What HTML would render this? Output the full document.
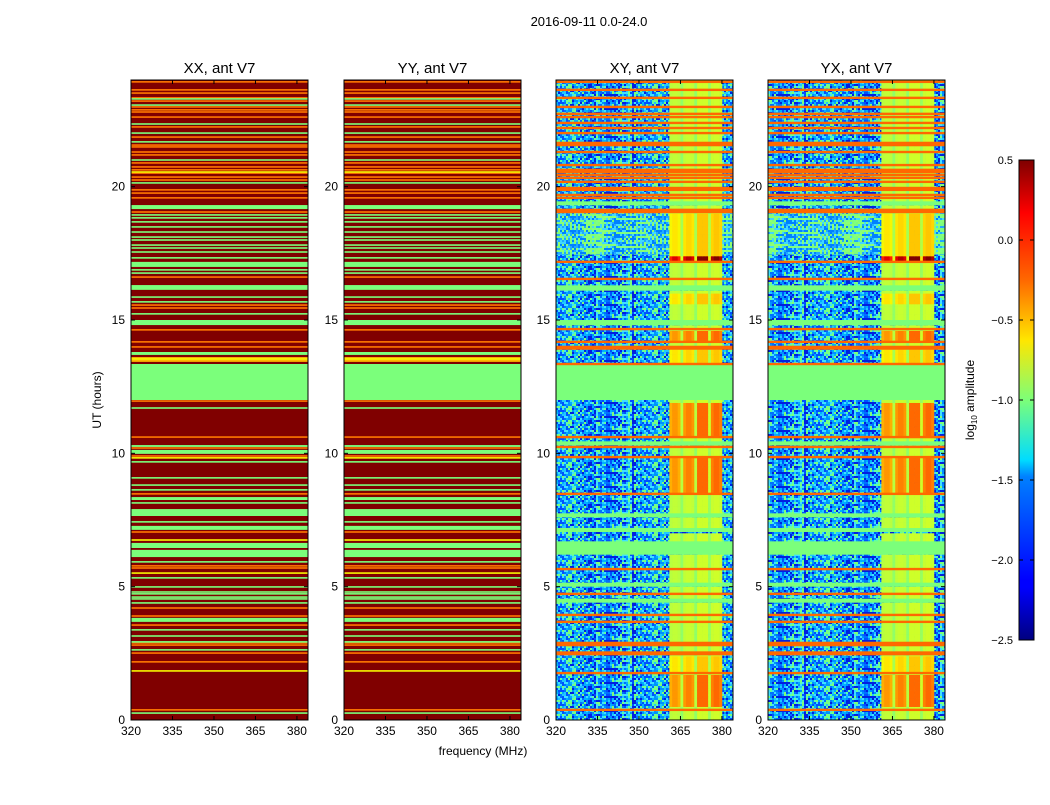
<!DOCTYPE html>
<html><head><meta charset="utf-8"><style>
body{margin:0;background:#fff;}
svg text{font-family:"Liberation Sans",sans-serif;fill:#000;}
</style></head><body>
<svg id="fig" width="1050" height="800" xmlns="http://www.w3.org/2000/svg">
<defs>
<pattern id="noise" patternUnits="userSpaceOnUse" width="86" height="14"></pattern>
<pattern id="noiseL" patternUnits="userSpaceOnUse" width="86" height="14"></pattern>
<linearGradient id="jetgrad" x1="0" y1="1" x2="0" y2="0">
<stop offset="0" stop-color="#00007f"/><stop offset="0.11" stop-color="#0000ff"/><stop offset="0.125" stop-color="#0000ff"/>
<stop offset="0.34" stop-color="#0080ff"/><stop offset="0.375" stop-color="#00dcff"/><stop offset="0.5" stop-color="#7cff79"/>
<stop offset="0.625" stop-color="#ffe600"/><stop offset="0.75" stop-color="#ff6800"/><stop offset="0.89" stop-color="#ff0000"/><stop offset="1" stop-color="#7f0000"/>
</linearGradient>
</defs>
<text x="589" y="26" font-size="13" text-anchor="middle">2016-09-11 0.0-24.0</text>
<g id="panels"></g>
<text x="483" y="755" font-size="12" text-anchor="middle">frequency (MHz)</text>
<text x="0" y="0" font-size="12" text-anchor="middle" transform="translate(101,400) rotate(-90)">UT (hours)</text>
<g>
<rect x="1019" y="160" width="15" height="480" fill="url(#jetgrad)" stroke="#000" stroke-width="1"/>
<g id="cbticks"></g>
<text font-size="12" text-anchor="middle" transform="translate(974,400) rotate(-90)">log<tspan font-size="8" dy="3">10</tspan><tspan dy="-3"> amplitude</tspan></text>
</g>
</svg>
<script>
// ---- data ----
const panelTitles = ["XX, ant V7","YY, ant V7","XY, ant V7","YX, ant V7"];
const xTicks = [320,335,350,365,380];
const yTicks = [0,5,10,15,20];
const cbTicks = [0.5,0.0,-0.5,-1.0,-1.5,-2.0,-2.5];
const cbTickLabels = ["0.5","0.0","\u22120.5","\u22121.0","\u22121.5","\u22122.0","\u22122.5"];
// XX/YY: background level is saturated (0.5); bands and thin lines in hours
const autoBase = 0.5;
const autoGreenBands = [[12.0,13.35],[13.69,13.8],[14.81,15.0],[16.13,16.31],[16.99,17.18],[19.16,19.31],[10.24,10.31],[9.98,10.13],[8.25,8.36],[7.65,7.91],[7.13,7.28],[6.45,6.64],[6.11,6.38],[3.68,3.83]];
const autoGreenBandLevel = -1.0;
const autoOrangeBands = [[13.43,13.61]];
const autoOrangeBandLevel = -0.35;
const autoOrangeLines = [23.93,23.63,23.51,23.33,23.21,22.99,22.88,22.8,22.61,22.24,21.86,21.56,21.49,21.3,21.19,20.89,20.74,20.63,20.51,20.36,20.25,19.88,19.76,19.58,19.05,16.61,15.56,15.45,14.63,14.18,13.99,11.96,10.61,10.2,9.9,8.48,7.05,5.78,5.7,4.2,3.9,3.56,2.89,2.81,2.51,2.18,0.38];
const autoOrangeLevel = -0.15;
const autoGreenLines = [23.29,23.06,22.35,22.01,21.68,21.0,20.14,18.94,18.83,18.68,18.49,18.3,18.11,18.0,17.81,17.7,17.55,17.33,16.88,16.76,15.86,15.68,15.23,11.7,9.68,9.08,8.81,8.63,8.14,7.43,5.93,5.33,4.99,4.8,4.73,4.61,4.54,4.39,3.38,3.15,2.93,2.63,0.26];
const autoGreenLevel = -1.0;
const autoYellowLines = [20.55,13.54,9.83,6.75,5.51,1.84];
const autoYellowLevel = -0.55;
const lineWidthH = 0.06;
// XY/YX
const crossGreenBands = [[12.0,13.35],[19.3,19.45],[16.1,16.3],[14.8,15.0],[6.2,6.7],[7.6,7.75],[7.05,7.2],[5.0,5.15],[10.3,10.45],[4.4,4.55]];
const crossGreenLevel = -1.0;
const crossLightBands = [[17.45,19.1]];
const crossRedLines = [23.93,23.63,23.33,22.99,22.73,22.61,22.39,22.2,22.01,21.64,21.56,21.3,20.81,20.63,20.55,20.44,20.33,20.18,19.95,19.88,19.69,19.58,19.13,19.05,17.18,16.54,14.66,14.18,13.99,13.93,13.35,10.61,10.24,9.86,8.48,5.66,4.73,3.94,3.68,2.89,2.81,2.53,2.47,1.76,0.38];
const crossRedLevel = -0.1;
const crossActivity = [[0.5,1.75,3],[1.85,2.45,2],[8.55,9.95,3],[10.65,11.95,3],[13.4,13.9,2],[14.25,14.6,3],[15.6,16.05,2],[17.25,17.45,5],[17.45,19.0,2]];
const crossActivityDefault = 1;
// channel gain per 1 MHz bin, 320..384 MHz
const chanGain = [0,0,0,0,0,0,0,0,0,0,0,0,0,0,0,0,0,0,0,0,0,0,0,0,0,0,0,0,0,0,0,0,0,0,0,0,0,0,0,0,0,0.9,1,1,0.9,0.3,1,1.1,1.1,1,0.3,1.2,1.2,1.2,1.2,0.4,1.1,1.2,1.2,1.1,0,0,0,0];

// ---- helpers ----
const NS="http://www.w3.org/2000/svg";
function mk(tag,attrs,parent){const e=document.createElementNS(NS,tag);for(const k in attrs)e.setAttribute(k,attrs[k]);if(parent)parent.appendChild(e);return e;}
const clamp=v=>Math.max(0,Math.min(1,v));
function seg(x,pts){for(let i=1;i<pts.length;i++){if(x<=pts[i][0]){const a=pts[i-1],b=pts[i];return a[1]+(b[1]-a[1])*(x-a[0])/(b[0]-a[0]);}}return pts[pts.length-1][1];}
const RS=[[0,0],[0.35,0],[0.66,1],[0.89,1],[1,0.5]], GS=[[0,0],[0.125,0],[0.375,1],[0.64,1],[0.91,0],[1,0]], BS=[[0,0.5],[0.11,1],[0.34,1],[0.65,0],[1,0]];
function jet(v){const x=clamp((v+2.5)/3);return `rgb(${Math.round(seg(x,RS)*255)},${Math.round(seg(x,GS)*255)},${Math.round(seg(x,BS)*255)})`;}
const lefts=[131,344,556,768], W=177, TOP=80, BOT=720;
const fMin=320,fMax=384,tMin=0,tMax=24;
const xS=(p,f)=>lefts[p]+(f-fMin)/(fMax-fMin)*W;
const yS=t=>BOT-(t-tMin)/(tMax-tMin)*(BOT-TOP);

// texture for noisy background (visual style only)
function fillPattern(id,cols){const p=document.getElementById(id);let s=12345;for(let j=0;j<7;j++)for(let i=0;i<43;i++){s=(s*1103515245+12345)&0x7fffffff;const c=cols[(s>>10)%cols.length];mk('rect',{x:i*2,y:j*2,width:2,height:2,fill:c},p);}}
fillPattern('noise',["#0050ff","#20c8ff","#7cff79","#0090ff","#0020e0","#40e0ff","#0070ff","#60ffa0","#00b0ff"]);
fillPattern('noiseL',["#40d8ff","#7cff79","#20a8ff","#90ff70","#0080ff","#80ff80"]);

const root=document.getElementById('panels');
function band(g,p,t0,t1,fill,name){
  const r=mk('rect',{x:xS(p,fMin),y:yS(t1),width:xS(p,fMax)-xS(p,fMin),height:Math.max(1.2,yS(t0)-yS(t1)),fill:fill},g);
  
  
}
function activityAt(t){for(const a of crossActivity){if(t>=a[0]&&t<a[1])return a[2];}return crossActivityDefault;}
function inBands(t,bands){return bands.some(b=>t>=b[0]&&t<b[1]);}

for(let p=0;p<4;p++){
  const g=mk('g',{},root);
  
  
  const hm=mk('g',{},g);
  
  
  if(p<2){
    band(hm,p,tMin,tMax,jet(autoBase),'heatmap-background');
    autoGreenBands.forEach(b=>band(hm,p,b[0],b[1],jet(autoGreenBandLevel),'green-band'));
    autoOrangeBands.forEach(b=>band(hm,p,b[0],b[1],jet(autoOrangeBandLevel),'orange-band'));
    autoOrangeLines.forEach(t=>band(hm,p,t-lineWidthH/2,t+lineWidthH/2,jet(autoOrangeLevel),'orange-line'));
    autoGreenLines.forEach(t=>band(hm,p,t-lineWidthH/2,t+lineWidthH/2,jet(autoGreenLevel),'green-line'));
    autoYellowLines.forEach(t=>band(hm,p,t-lineWidthH/2,t+lineWidthH/2,jet(autoYellowLevel),'yellow-line'));
  } else {
    band(hm,p,tMin,tMax,'url(#noise)','noise-background');
    crossLightBands.forEach(b=>band(hm,p,b[0],b[1],'url(#noiseL)','light-noise-band'));
    const step=0.1;
    for(let k=0;k<(tMax-tMin)/step;k++){
      const t0=tMin+k*step, tc=t0+step/2;
      if(inBands(tc,crossGreenBands))continue;
      const lvl=activityAt(tc);
      chanGain.forEach((gn,c)=>{
        if(gn<=0)return;
        const v=-1.0+0.25*lvl*gn;
        const cell=mk('rect',{x:xS(p,fMin+c),y:yS(t0+step),width:xS(p,fMin+c+1)-xS(p,fMin+c)+0.3,height:yS(t0)-yS(t0+step)+0.3,fill:jet(v)},hm);
        
        
      });
    }
    crossGreenBands.forEach(b=>band(hm,p,b[0],b[1],jet(crossGreenLevel),'green-band'));
    crossRedLines.forEach(t=>band(hm,p,t-0.045,t+0.045,jet(crossRedLevel),'red-line'));
  }
  mk('rect',{x:lefts[p],y:TOP,width:W,height:BOT-TOP,fill:'none',stroke:'#000','stroke-width':1},g);
  const tt=mk('text',{x:lefts[p]+W/2,y:TOP-7,'font-size':15,'text-anchor':'middle'},g);
  tt.textContent=panelTitles[p];
  
  
  xTicks.forEach(f=>{
    const x=xS(p,f);
    mk('line',{x1:x,x2:x,y1:BOT,y2:BOT-4,stroke:'#000'},g);
    mk('line',{x1:x,x2:x,y1:TOP,y2:TOP+4,stroke:'#000'},g);
    const t=mk('text',{x:x,y:BOT+15,'font-size':12,'text-anchor':'middle'},g);
    t.textContent=f;
    
    
  });
  yTicks.forEach(v=>{
    const y=yS(v);
    mk('line',{x1:lefts[p],x2:lefts[p]+4,y1:y,y2:y,stroke:'#000'},g);
    mk('line',{x1:lefts[p]+W,x2:lefts[p]+W-4,y1:y,y2:y,stroke:'#000'},g);
    const t=mk('text',{x:lefts[p]-6,y:y+4,'font-size':12,'text-anchor':'end'},g);
    t.textContent=v;
    
    
  });
}
const cbg=document.getElementById('cbticks');
cbTicks.forEach((v,i)=>{
  const y=160+(0.5-v)/3*480;
  mk('line',{x1:1019,x2:1023,y1:y,y2:y,stroke:'#000'},cbg);
  mk('line',{x1:1034,x2:1030,y1:y,y2:y,stroke:'#000'},cbg);
  const t=mk('text',{x:1013,y:y+4,'font-size':11,'text-anchor':'end'},cbg);
  t.textContent=cbTickLabels[i];
  
  
});
</script>
</body></html>
